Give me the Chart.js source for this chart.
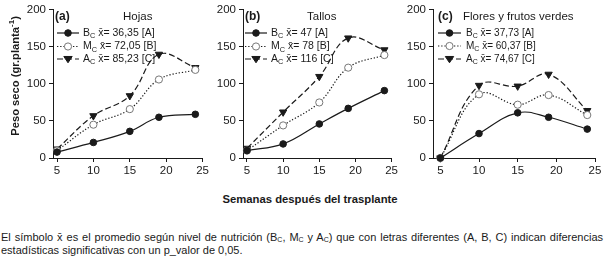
<!DOCTYPE html>
<html lang="es">
<head>
<meta charset="UTF-8">
<title>Peso seco</title>
<script src="https://cdn.jsdelivr.net/npm/chart.js"></script>
<style>
  body { margin: 0; width: 606px; height: 257px; background: #fff; position: relative; overflow: hidden;
         font-family: "Liberation Sans", Arial, sans-serif; color: #1a1a1a; }
  .panel { position: absolute; top: 0; }
  #xtitle { position: absolute; left: 0; width: 620px; top: 193px; text-align: center;
            font-weight: bold; font-size: 11.3px; }
  #caption { position: absolute; left: 1px; width: 602px; top: 231px; font-size: 11px; line-height: 12.5px;
             text-align: justify; text-align-last: left; color: #1a1a1a; }
  sub { font-size: 7px; vertical-align: -1px; line-height: 0; }
</style>
</head>
<body>
  <div class="panel" style="left:0"><canvas id="chA" width="211" height="180"></canvas></div>
  <div class="panel" style="left:212px"><canvas id="chB" width="188" height="180"></canvas></div>
  <div class="panel" style="left:402px"><canvas id="chC" width="204" height="180"></canvas></div>
  <div id="xtitle">Semanas después del trasplante</div>
  <div id="caption">El símbolo x̄ es el promedio según nivel de nutrición (B<sub>C</sub>, M<sub>C</sub> y A<sub>C</sub>) que con letras diferentes (A, B, C) indican diferencias estadísticas significativas con un p_valor de 0,05.</div>
<script>
  // semanas muestreadas
  const weeks = [5, 10, 15, 19, 24];
  const xTicks = [5, 10, 15, 20, 25];

  // (a) Hojas
  const hojasB = [8, 21, 36, 55, 59];
  const hojasM = [10, 45, 66, 106, 119];
  const hojasA = [12, 57, 84, 140, 122];
  const hojasMeans = ['36,35', '72,05', '85,23'];

  // (b) Tallos
  const tallosB = [10, 19, 46, 67, 91];
  const tallosM = [10, 44, 75, 122, 139];
  const tallosA = [13, 62, 110, 162, 146];
  const tallosMeans = ['47', '78', '116'];

  // (c) Flores y frutos verdes
  const floresB = [0, 33, 61, 55, 39];
  const floresM = [0, 86, 72, 85, 58];
  const floresA = [0, 98, 97, 113, 64];
  const floresMeans = ['37,73', '60,37', '74,67'];

  const levels = ['B', 'M', 'A'];
  const letters = ['A', 'B', 'C'];

  const FONT = '"Liberation Sans", Arial, sans-serif';
  const INK = '#1a1a1a';

  const seriesStyle = [
    { borderDash: [], pointStyle: 'circle', pointRadius: 3.3, pointBackgroundColor: INK, pointBorderColor: INK, pointRotation: 0 },
    { borderDash: [1.3, 1.9], pointStyle: 'circle', pointRadius: 3.6, pointBackgroundColor: '#fff', pointBorderColor: '#777', pointRotation: 0 },
    { borderDash: [6, 3], pointStyle: 'triangle', pointRadius: 4.2, pointBackgroundColor: INK, pointBorderColor: INK, pointRotation: 180 }
  ];

  function drawMarker(ctx, st, x, y) {
    ctx.save();
    ctx.setLineDash([]);
    ctx.fillStyle = st.pointBackgroundColor;
    ctx.strokeStyle = st.pointBorderColor;
    ctx.lineWidth = 1;
    ctx.beginPath();
    if (st.pointStyle === 'circle') {
      ctx.arc(x, y, st.pointRadius, 0, Math.PI * 2);
    } else {
      const r = st.pointRadius;
      ctx.moveTo(x - r, y - r * 0.6);
      ctx.lineTo(x + r, y - r * 0.6);
      ctx.lineTo(x, y + r * 0.9);
      ctx.closePath();
    }
    ctx.fill();
    ctx.stroke();
    ctx.restore();
  }

  // leyenda, etiqueta del panel y título del eje Y
  const panelText = {
    id: 'panelText',
    afterDraw(chart, args, o) {
      const ctx = chart.ctx, a = chart.chartArea;
      ctx.save();
      ctx.fillStyle = INK;
      ctx.textBaseline = 'middle';
      ctx.font = 'bold 12px ' + FONT;
      ctx.fillText(o.tag, a.left + o.tagX, 17);
      ctx.font = '11.5px ' + FONT;
      ctx.fillText(o.title, a.left + o.titleX, 17);

      chart.data.datasets.forEach((ds, i) => {
        const y = o.rowY[i];
        const x0 = a.left + o.lineX0, x1 = a.left + o.lineX1;
        ctx.strokeStyle = INK;
        ctx.lineWidth = 1.2;
        ctx.setLineDash(ds.borderDash);
        ctx.beginPath();
        ctx.moveTo(x0, y);
        ctx.lineTo(x1, y);
        ctx.stroke();
        drawMarker(ctx, ds, (x0 + x1) / 2, y);

        let tx = a.left + o.textX;
        ctx.fillStyle = INK;
        ctx.font = o.fs + 'px ' + FONT;
        ctx.fillText(levels[i], tx, y);
        tx += ctx.measureText(levels[i]).width;
        ctx.font = (o.fs * 0.7) + 'px ' + FONT;
        ctx.fillText('C', tx, y + 3);
        tx += ctx.measureText('C').width;
        ctx.font = o.fs + 'px ' + FONT;
        ctx.fillText(' x\u0304= ' + o.means[i] + ' [' + letters[i] + ']', tx, y);
      });

      if (o.yTitle) {
        ctx.translate(16, (a.top + a.bottom) / 2 - 8);
        ctx.rotate(-Math.PI / 2);
        ctx.font = 'bold 11.2px ' + FONT;
        const main = 'Peso seco (gr.planta';
        const wMain = ctx.measureText(main).width;
        ctx.font = 'bold 8px ' + FONT;
        const wSup = ctx.measureText('-1').width;
        ctx.font = 'bold 11.2px ' + FONT;
        const wEnd = ctx.measureText(')').width;
        let sx = -(wMain + wSup + wEnd) / 2;
        ctx.fillText(main, sx, 0);
        sx += wMain;
        ctx.font = 'bold 8px ' + FONT;
        ctx.fillText('-1', sx, -4);
        sx += wSup;
        ctx.font = 'bold 11.2px ' + FONT;
        ctx.fillText(')', sx, 0);
      }
      ctx.restore();
    }
  };

  function makeChart(id, vals, xMin, yWidth, padRight, text) {
    const datasets = vals.map((v, i) => Object.assign({
      data: weeks.map((w, j) => ({ x: w, y: v[j] })),
      borderColor: INK,
      borderWidth: 1.2,
      tension: 0.4,
      pointBorderWidth: 1,
      clip: false
    }, seriesStyle[i]));

    return new Chart(document.getElementById(id), {
      type: 'line',
      data: { datasets },
      options: {
        responsive: false,
        animation: false,
        devicePixelRatio: 1,
        layout: { padding: { top: 9, right: padRight, left: 0, bottom: 0 } },
        plugins: { legend: { display: false }, tooltip: { enabled: false }, panelText: text },
        scales: {
          x: {
            type: 'linear', min: xMin, max: 25,
            afterBuildTicks: s => { s.ticks = xTicks.map(v => ({ value: v })); },
            afterFit: s => { s.height = 22; },
            grid: { drawOnChartArea: false, drawTicks: true, tickLength: 4, color: INK },
            border: { color: INK, width: 1 },
            ticks: { color: INK, font: { family: FONT, size: 11.5 }, padding: 2, maxRotation: 0 }
          },
          y: {
            min: 0, max: 200,
            afterFit: s => { s.width = yWidth; },
            grid: { drawOnChartArea: false, drawTicks: true, tickLength: 4, color: INK },
            border: { color: INK, width: 1 },
            ticks: { stepSize: 50, color: INK, font: { family: FONT, size: 11.5 }, padding: 3 }
          }
        }
      },
      plugins: [panelText]
    });
  }

  makeChart('chA', [hojasB, hojasM, hojasA], 4.45, 53, 0, {
    tag: '(a)', tagX: 2, title: 'Hojas', titleX: 70, rowY: [33, 46.5, 59],
    lineX0: 4, lineX1: 26, textX: 30, fs: 10.5, means: hojasMeans, yTitle: true
  });
  makeChart('chB', [tallosB, tallosM, tallosA], 4.45, 31, 0, {
    tag: '(b)', tagX: 2, title: 'Tallos', titleX: 64, rowY: [33, 46.5, 59],
    lineX0: 2, lineX1: 24, textX: 28, fs: 10.5, means: tallosMeans
  });
  makeChart('chC', [floresB, floresM, floresA], 4.05, 31, 11, {
    tag: '(c)', tagX: 5, title: 'Flores y frutos verdes', titleX: 30, rowY: [33, 46, 59],
    lineX0: 5, lineX1: 28, textX: 33, fs: 10, means: floresMeans
  });
</script>
</body>
</html>
